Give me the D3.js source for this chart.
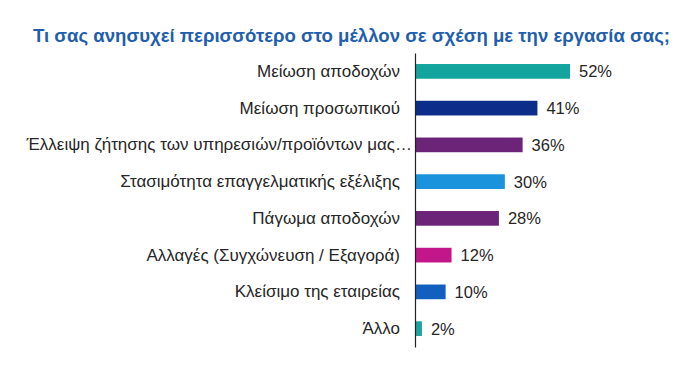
<!DOCTYPE html>
<html>
<head>
<meta charset="utf-8">
<script src="https://cdn.jsdelivr.net/npm/d3@7"></script>
<style>
  body { margin: 0; background: #fff; }
  svg { font-family: "Liberation Sans", Arial, sans-serif; }
</style>
</head>
<body>
<svg id="chart"></svg>
<script>
const categories = [
  "Μείωση αποδοχών",
  "Μείωση προσωπικού",
  "Έλλειψη ζήτησης των υπηρεσιών/προϊόντων μας…",
  "Στασιμότητα επαγγελματικής εξέλιξης",
  "Πάγωμα αποδοχών",
  "Αλλαγές (Συγχώνευση / Εξαγορά)",
  "Κλείσιμο της εταιρείας",
  "Άλλο"
];
const values = [52, 41, 36, 30, 28, 12, 10, 2];
const colors = ["#14a49e", "#0c2e8a", "#6c2479", "#1a92dc", "#6c2479", "#c2168b", "#1160bf", "#1ea39f"];
const title = "Τι σας ανησυχεί περισσότερο στο μέλλον σε σχέση με την εργασία σας;";

const width = 700, height = 365;
const margin = { top: 53, left: 415, bottom: 18 };

const svg = d3.select("#chart")
  .attr("width", width)
  .attr("height", height);

svg.append("text")
  .attr("x", 33)
  .attr("y", 42)
  .attr("fill", "#1f5fae")
  .attr("font-weight", "bold")
  .attr("font-size", 18.6)
  .text(title);

const x = d3.scaleLinear()
  .domain([0, 52])
  .range([margin.left, 569]);

const y = d3.scaleBand()
  .domain(categories)
  .range([margin.top, height - margin.bottom])
  .paddingInner(0.6)
  .paddingOuter(0.3);

svg.selectAll(".bar")
  .data(values)
  .enter()
  .append("rect")
  .attr("class", "bar")
  .attr("x", x(0) + 1)
  .attr("y", (d, i) => y(categories[i]))
  .attr("width", d => x(d) - x(0))
  .attr("height", y.bandwidth())
  .attr("fill", (d, i) => colors[i]);

svg.selectAll(".val")
  .data(values)
  .enter()
  .append("text")
  .attr("class", "val")
  .attr("x", d => x(d) + 10)
  .attr("y", (d, i) => y(categories[i]) + y.bandwidth() / 2)
  .attr("dy", "0.36em")
  .attr("font-size", 16.5)
  .attr("fill", "#262626")
  .text(d => d + "%");

const yAxis = d3.axisLeft(y).tickSize(0).tickPadding(15);
const g = svg.append("g")
  .attr("transform", "translate(" + margin.left + ",0)")
  .call(yAxis);
g.select(".domain").attr("stroke", "#222").attr("stroke-width", 1.2);
g.selectAll("text")
  .attr("font-size", 17)
  .attr("font-family", "Liberation Sans, Arial, sans-serif")
  .attr("fill", "#262626");
// the truncated label runs right up to the axis in the original
g.selectAll(".tick text")
  .filter(d => d.endsWith("…"))
  .attr("x", -3);
</script>
</body>
</html>
